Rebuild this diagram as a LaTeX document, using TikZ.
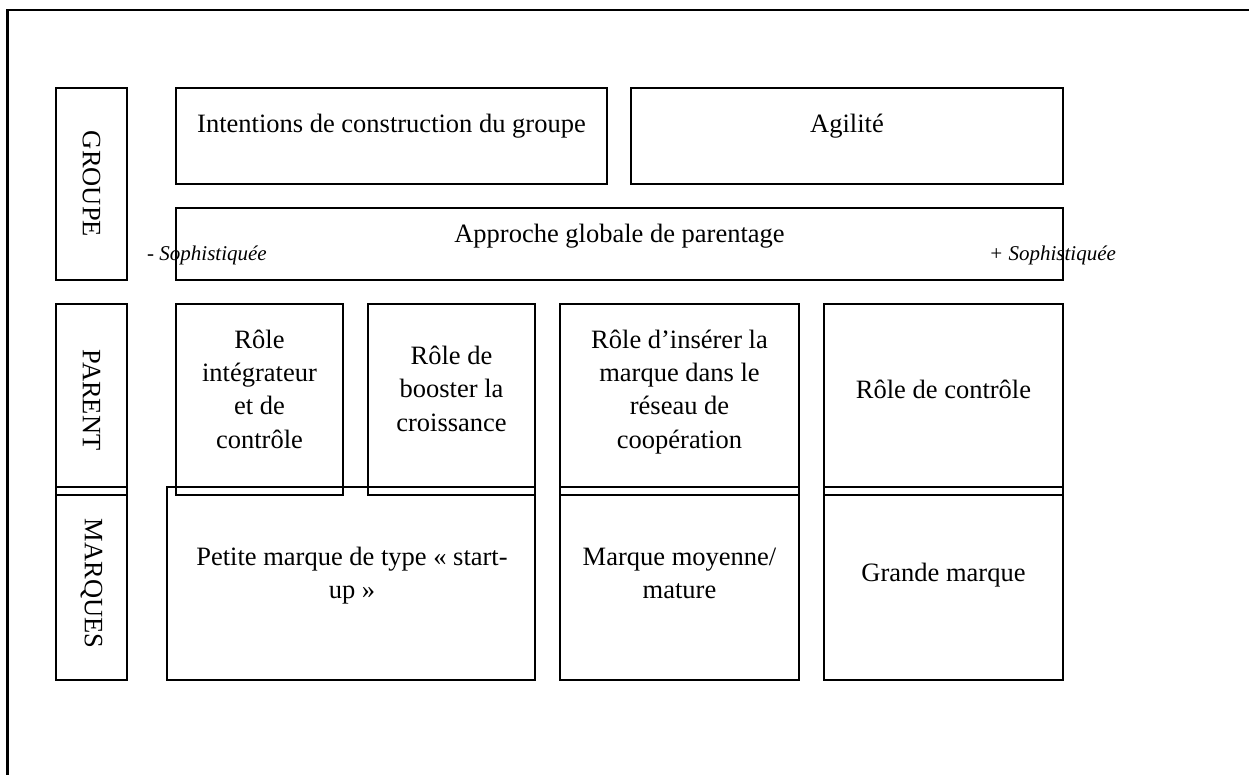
\documentclass[tikz,border=0pt]{standalone}
\usepackage{fontspec}
\setmainfont{Liberation Serif}
\begin{document}
\begin{tikzpicture}[x=1pt,y=-1pt,
  frame/.style={line width=2.4pt},
  cell/.style={draw, line width=2.4pt, rectangle, inner sep=0pt, outer sep=0pt, anchor=north west},
  label/.style={font=\fontsize{26.5}{33.3}\selectfont, align=center, inner sep=0pt, anchor=base},
  sidelabel/.style={font=\fontsize{26.5}{33.3}\selectfont, inner sep=0pt, rotate=-90},
  scale label/.style={font=\fontsize{21}{25}\selectfont\itshape, inner sep=0pt, anchor=base west}]
\useasboundingbox (0,0) rectangle (1249,775);

% open frame (left and top edges only)
\coordinate (fbl) at (7.5,775);
\coordinate (ftl) at (7.5,10);
\coordinate (ftr) at (1249,10);
\draw[frame] (fbl) -- (ftl) -- (ftr);

% row headings
\node[cell, minimum width=71pt, minimum height=192pt] (groupe) at (56,88) {};
\node[cell, minimum width=71pt, minimum height=191pt] (parent) at (56,304) {};
\node[cell, minimum width=71pt, minimum height=193pt] (marques) at (56,487) {};
\node[sidelabel] (tgroupe) at (91.5,184) {GROUPE};
\node[sidelabel] (tparent) at (91.5,400) {PARENT};
\node[sidelabel] (tmarques) at (91.5,583.5) {MARQUES};

% group level
\node[cell, minimum width=431pt, minimum height=96pt] (intent) at (176,88) {};
\node[cell, minimum width=432pt, minimum height=96pt] (agil) at (631,88) {};
\node[cell, minimum width=887pt, minimum height=72pt] (appro) at (176,208) {};
\node[label] (tintent) at (391.5,133) {Intentions de construction du groupe};
\node[label] (tagil) at (847,133) {Agilité};
\node[label] (tappro) at (619.5,243) {Approche globale de parentage};
\node[scale label] (tmoins) at (147,261) {- Sophistiquée};
\node[scale label] (tplus) at (989,261) {+ Sophistiquée};

% parent level (multi-line labels are anchored on their last baseline)
\node[cell, minimum width=167pt, minimum height=191pt] (integ) at (176,304) {};
\node[cell, minimum width=167pt, minimum height=191pt] (boost) at (368,304) {};
\node[cell, minimum width=239pt, minimum height=191pt] (inser) at (560,304) {};
\node[cell, minimum width=239pt, minimum height=191pt] (ctrl) at (824,304) {};
\node[label] (tinteg) at (259.5,448) {Rôle\\intégrateur\\et de\\contrôle};
\node[label] (tboost) at (451.5,431) {Rôle de\\booster la\\croissance};
\node[label] (tinser) at (679.5,448) {Rôle d’insérer la\\marque dans le\\réseau de\\coopération};
\node[label] (tctrl) at (943.5,398) {Rôle de contrôle};

% brand level
\node[cell, minimum width=368pt, minimum height=193pt] (petite) at (167,487) {};
\node[cell, minimum width=239pt, minimum height=193pt] (moy) at (560,487) {};
\node[cell, minimum width=239pt, minimum height=193pt] (grande) at (824,487) {};
\node[label] (tpetite) at (352,598.5) {Petite marque de type « start-\\up »};
\node[label] (tmoy) at (679.5,598.5) {Marque moyenne/\\mature};
\node[label] (tgrande) at (943.5,581) {Grande marque};
\end{tikzpicture}
\end{document}
